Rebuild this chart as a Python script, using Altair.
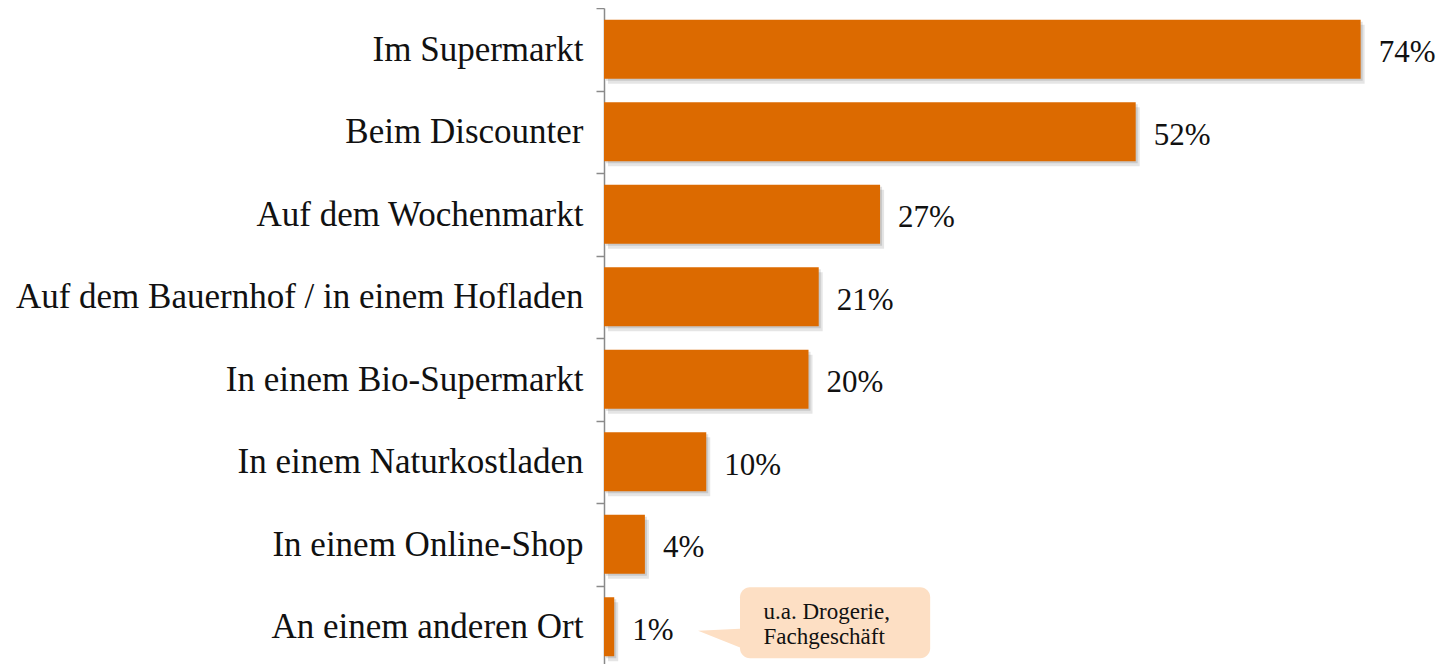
import altair as alt
import pandas as pd

categories = [
    "Im Supermarkt",
    "Beim Discounter",
    "Auf dem Wochenmarkt",
    "Auf dem Bauernhof / in einem Hofladen",
    "In einem Bio-Supermarkt",
    "In einem Naturkostladen",
    "In einem Online-Shop",
    "An einem anderen Ort",
]
values = [74, 52, 27, 21, 20, 10, 4, 1]
value_labels = ["74%", "52%", "27%", "21%", "20%", "10%", "4%", "1%"]

callout_category = ["An einem anderen Ort"]
callout_start = [13.3]
callout_end = [31.9]
callout_pointer = [11.5]
callout_text_x = [15.6]
callout_text = ["u.a. Drogerie,\nFachgeschäft"]

df = pd.DataFrame({"cat": categories, "val": values, "lab": value_labels})
dc = pd.DataFrame({
    "cat": callout_category,
    "x0": callout_start,
    "x1": callout_end,
    "xp": callout_pointer,
    "xt": callout_text_x,
    "txt": callout_text,
})

FONT = "Liberation Serif"
BAR = "#DC6A00"
PEACH = "#FDDFC4"
BAR_H = 59

yscale = alt.Scale(domain=categories, paddingInner=0, paddingOuter=0)
xscale = alt.Scale(domain=[0, 80])

y_enc = alt.Y(
    "cat:N",
    sort=categories,
    scale=yscale,
    title=None,
    axis=alt.Axis(
        labelFont=FONT,
        labelFontSize=35,
        labelColor="#111111",
        labelPadding=13,
        labelLimit=800,
        tickBand="extent",
        tickSize=8,
        tickColor="#8a8a8a",
        tickWidth=1.5,
        domainColor="#8a8a8a",
        domainWidth=1.5,
        grid=False,
    ),
)
y_plain = alt.Y("cat:N", sort=categories, scale=yscale, title=None)
x_enc = alt.X("val:Q", scale=xscale, axis=None)

base = alt.Chart(df)

shadow1 = base.mark_bar(
    color="#000000", opacity=0.10, height=BAR_H, xOffset=4, x2Offset=4, yOffset=5
).encode(x=x_enc, y=y_plain)
shadow2 = base.mark_bar(
    color="#000000", opacity=0.12, height=BAR_H, xOffset=2, x2Offset=2, yOffset=2
).encode(x=x_enc, y=y_plain)
bars = base.mark_bar(color=BAR, height=BAR_H).encode(x=x_enc, y=y_enc)
labels = base.mark_text(
    align="left", baseline="middle", dx=18, dy=4, font=FONT, fontSize=31, color="#111111"
).encode(x=x_enc, y=y_plain, text="lab:N")

cbase = alt.Chart(dc)
box = cbase.mark_bar(color=PEACH, height=71, cornerRadius=10, yOffset=-4).encode(
    x=alt.X("x0:Q", scale=xscale, axis=None), x2="x1:Q", y=y_plain
)
pointer = cbase.mark_point(
    shape="M -1 0 L 1 -0.1 L 1 0.8 Z", size=2209, filled=True, color=PEACH, opacity=1, yOffset=4
).encode(x=alt.X("xp:Q", scale=xscale, axis=None), y=y_plain)
ctext = cbase.mark_text(
    align="left", baseline="middle", font=FONT, fontSize=23, lineBreak="\n", lineHeight=25,
    color="#111111", dy=-15
).encode(x=alt.X("xt:Q", scale=xscale, axis=None), y=y_plain, text="txt:N")

chart = (
    alt.layer(shadow1, shadow2, bars, labels, box, pointer, ctext)
    .properties(
        width=818,
        height=660,
        autosize=alt.AutoSizeParams(type="none"),
        padding={"left": 596, "top": 0, "right": 15, "bottom": 0},
        view=alt.ViewBackground(stroke="transparent", strokeWidth=0),
    )
    .configure_view(stroke="transparent", strokeWidth=0)
    .configure(background="white")
)

chart.save("out.html", embed_options={"renderer": "svg", "actions": False})
